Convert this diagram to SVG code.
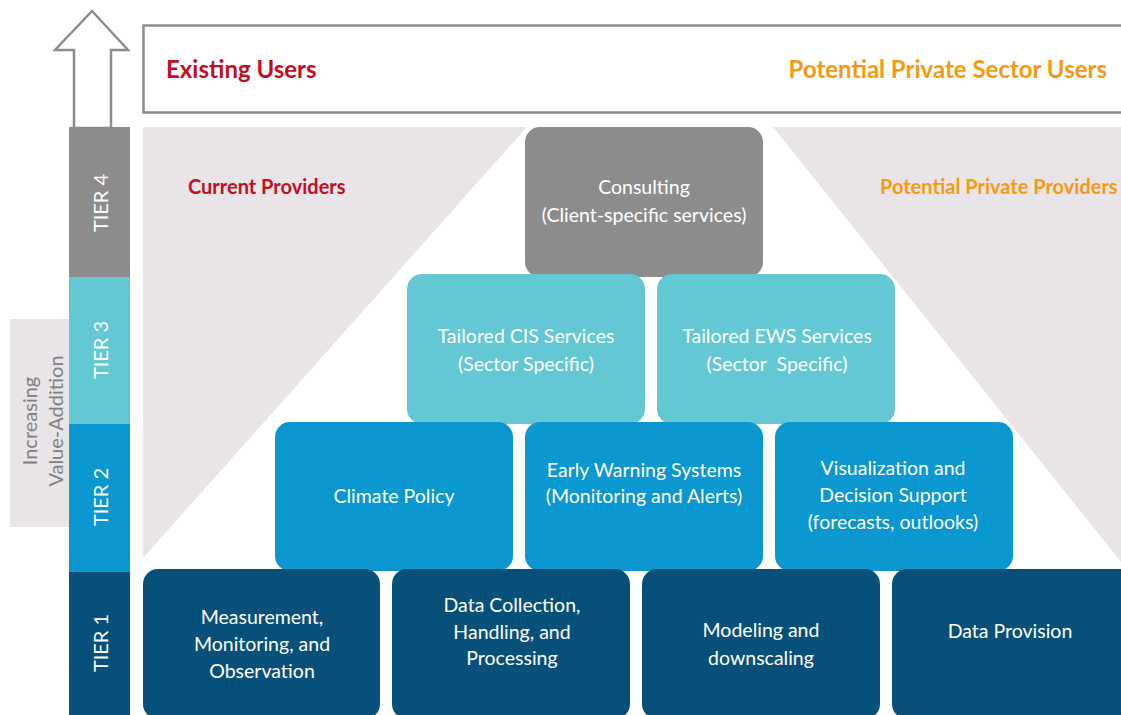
<svg xmlns="http://www.w3.org/2000/svg" width="1121" height="715" viewBox="0 0 1121 715">
  <style>
    .lbl { font-family: Lato, "Open Sans", "Liberation Sans", sans-serif; }
    .box-text { font-size: 19.5px; fill: #ffffff; text-anchor: middle; }
    .tier-text { font-size: 20px; fill: #ffffff; text-anchor: middle; }
    .head { font-size: 24px; font-weight: bold; }
    .sub { font-size: 20px; font-weight: bold; }
    .red { fill: #c20e1f; }
    .orange { fill: #f7990f; }
    .t4 { fill: #8c8c8c; }
    .t3 { fill: #63c8d4; }
    .t2 { fill: #0b97d0; }
    .t1 { fill: #07507a; }
    .zone { fill: #e8e4e8; }
  </style>

  <!-- value-addition arrow -->
  <g id="value-arrow">
    <polygon points="92,11 128,50 111,50 111,128 74,128 74,50 55,50" fill="#ffffff" stroke="#8c8c8c" stroke-width="2.5" stroke-linejoin="miter"/>
  </g>

  <!-- users banner -->
  <g id="users">
    <rect x="143.5" y="25.5" width="990" height="87" fill="#ffffff" stroke="#8c8c8c" stroke-width="2.5"/>
    <text class="lbl head red" x="166" y="78">Existing Users</text>
    <text class="lbl head orange" x="1107" y="78" text-anchor="end">Potential Private Sector Users</text>
  </g>

  <!-- provider zones -->
  <g id="current-providers">
    <polygon class="zone" points="143,127 527,127 143,558"/>
    <text class="lbl sub red" x="188" y="194">Current Providers</text>
  </g>
  <g id="private-providers">
    <polygon class="zone" points="773,127 1121,127 1121,562"/>
    <text class="lbl sub orange" x="880" y="194">Potential Private Providers</text>
  </g>

  <!-- increasing value-addition label -->
  <g id="value-addition">
    <rect class="zone" x="10" y="319" width="59" height="208"/>
    <text class="lbl" font-size="20" fill="#808080" text-anchor="middle" transform="translate(37,421) rotate(-90)">Increasing</text>
    <text class="lbl" font-size="20" fill="#808080" text-anchor="middle" transform="translate(63,421) rotate(-90)">Value-Addition</text>
  </g>

  <!-- tier bar -->
  <g id="tier-bar">
    <rect class="t4" x="69" y="127" width="61" height="150"/>
    <rect class="t3" x="69" y="277" width="61" height="147"/>
    <rect class="t2" x="69" y="424" width="61" height="148"/>
    <rect class="t1" x="69" y="572" width="61" height="143"/>
    <text class="lbl tier-text" transform="translate(108,203) rotate(-90)">TIER 4</text>
    <text class="lbl tier-text" transform="translate(108,350) rotate(-90)">TIER 3</text>
    <text class="lbl tier-text" transform="translate(108,497) rotate(-90)">TIER 2</text>
    <text class="lbl tier-text" transform="translate(108,643) rotate(-90)">TIER 1</text>
  </g>

  <!-- tier 4 -->
  <g id="consulting">
    <rect class="t4" x="525" y="127" width="238" height="150" rx="15"/>
    <text class="lbl box-text" x="644" y="194">Consulting</text>
    <text class="lbl box-text" x="644" y="222">(Client-specific services)</text>
  </g>

  <!-- tier 3 -->
  <g id="tailored-cis">
    <rect class="t3" x="407" y="274" width="238" height="150" rx="15"/>
    <text class="lbl box-text" x="526" y="343">Tailored CIS Services</text>
    <text class="lbl box-text" x="526" y="371">(Sector Specific)</text>
  </g>
  <g id="tailored-ews">
    <rect class="t3" x="657" y="274" width="238" height="150" rx="15"/>
    <text class="lbl box-text" x="777" y="343" xml:space="preserve">Tailored EWS Services</text>
    <text class="lbl box-text" x="777" y="371" xml:space="preserve">(Sector  Specific)</text>
  </g>

  <!-- tier 2 -->
  <g id="climate-policy">
    <rect class="t2" x="275" y="422" width="238" height="149" rx="15"/>
    <text class="lbl box-text" x="394" y="503">Climate Policy</text>
  </g>
  <g id="early-warning">
    <rect class="t2" x="525" y="422" width="238" height="149" rx="15"/>
    <text class="lbl box-text" x="644" y="477">Early Warning Systems</text>
    <text class="lbl box-text" x="644" y="503">(Monitoring and Alerts)</text>
  </g>
  <g id="visualization">
    <rect class="t2" x="775" y="422" width="238" height="149" rx="15"/>
    <text class="lbl box-text" x="893" y="475">Visualization and</text>
    <text class="lbl box-text" x="893" y="502">Decision Support</text>
    <text class="lbl box-text" x="893" y="529">(forecasts, outlooks)</text>
  </g>

  <!-- tier 1 -->
  <g id="measurement">
    <rect class="t1" x="143" y="569" width="237" height="150" rx="15"/>
    <text class="lbl box-text" x="262" y="624">Measurement,</text>
    <text class="lbl box-text" x="262" y="651">Monitoring, and</text>
    <text class="lbl box-text" x="262" y="678">Observation</text>
  </g>
  <g id="data-collection">
    <rect class="t1" x="392" y="569" width="238" height="150" rx="15"/>
    <text class="lbl box-text" x="512" y="612">Data Collection,</text>
    <text class="lbl box-text" x="512" y="639">Handling, and</text>
    <text class="lbl box-text" x="512" y="665">Processing</text>
  </g>
  <g id="modeling">
    <rect class="t1" x="642" y="569" width="238" height="150" rx="15"/>
    <text class="lbl box-text" x="761" y="637">Modeling and</text>
    <text class="lbl box-text" x="761" y="665">downscaling</text>
  </g>
  <g id="data-provision">
    <rect class="t1" x="892" y="569" width="250" height="150" rx="15"/>
    <text class="lbl box-text" x="1010" y="638">Data Provision</text>
  </g>

  <!-- no connectors in this layout -->
  <g id="connectors"/>
</svg>
